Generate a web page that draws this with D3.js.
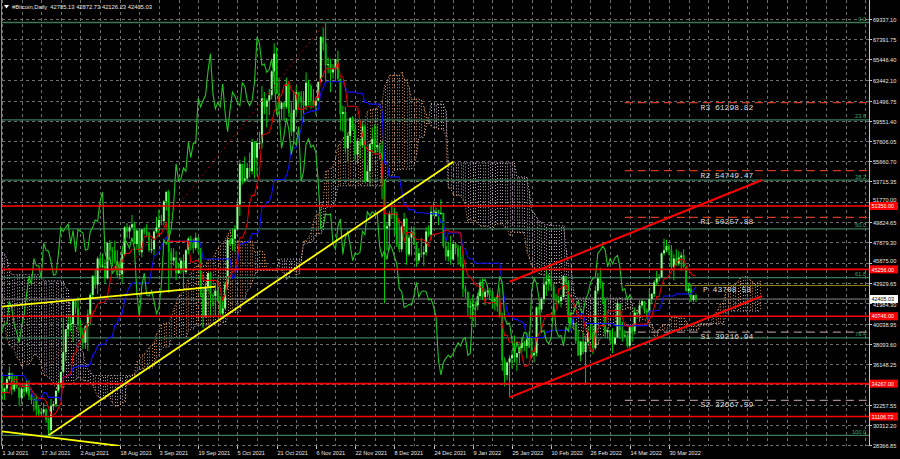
<!DOCTYPE html>
<html><head><meta charset="utf-8">
<script src="https://cdn.jsdelivr.net/npm/d3@7"></script>
<style>html,body{margin:0;padding:0;background:#000;overflow:hidden}</style>
</head><body><svg id="c" width="900" height="459"></svg>
<script>
// ---------- DATA (prices in thousands of USD, daily bars from 15 Apr 2021) ----------
const startDate = "2021-04-15";
const firstOpen = 63.0;
const closes = [
63.6,61.4,60.1,56.2,55.7,56.5,53.8,51.7,51.2,50.1,49.0,54.0,55.0,54.8,53.6,57.8,
57.8,56.6,57.2,53.2,57.5,56.4,57.4,58.9,58.3,55.8,56.7,49.2,49.7,49.9,46.8,46.4,43.6,42.9,37.0,40.7,37.3,37.5,34.8,38.8,38.4,39.3,38.5,35.7,34.6,35.7,37.3,
36.7,37.6,39.2,36.9,35.5,35.8,33.6,33.4,37.3,36.7,37.3,35.6,39.1,40.5,40.1,38.3,38.0,35.8,35.5,35.6,31.7,32.5,33.7,34.7,31.6,32.2,34.6,34.5,35.9,35.0,
33.5,33.8,34.7,35.3,33.7,34.2,33.9,32.9,33.8,33.5,34.3,33.1,32.7,32.8,31.8,31.4,31.5,31.8,30.8,29.8,32.1,32.3,33.6,34.3,35.4,37.3,39.5,40.0,40.0,42.2,41.5,
39.9,39.2,38.2,39.8,40.9,42.8,44.6,43.8,46.3,45.6,45.6,44.4,47.8,47.1,47.0,46.0,44.7,44.8,46.7,49.3,48.9,49.3,49.6,47.7,49.0,46.9,49.1,48.9,48.8,47.1,47.2,
48.9,49.3,50.0,49.9,51.8,52.7,46.9,46.1,46.4,44.9,45.2,46.1,45.0,47.1,48.2,47.8,47.3,48.3,47.3,43.0,40.7,43.6,44.9,42.8,42.7,43.2,42.2,41.0,41.5,43.8,
48.1,47.7,48.2,49.1,51.5,55.4,53.8,54.0,55.0,54.7,57.5,56.0,57.4,57.4,61.7,60.9,61.5,62.0,64.3,66.0,62.2,60.7,61.3,60.9,63.1,60.3,58.5,60.6,62.3,61.9,61.3,
61.0,63.2,62.9,61.5,61.0,61.5,63.3,67.6,67.0,64.9,65.0,64.2,64.5,65.5,63.6,60.2,60.4,56.9,58.1,59.8,58.7,56.3,57.6,57.2,59.0,53.7,54.7,57.3,57.8,57.0,
57.2,56.5,53.6,49.2,49.4,50.6,50.5,50.6,47.7,47.2,49.4,50.1,46.7,48.3,48.9,47.6,46.1,46.8,46.7,46.9,48.9,48.6,50.8,50.4,50.8,50.6,50.7,47.5,46.5,47.1,46.2,
47.7,47.3,46.5,45.8,43.4,43.1,41.6,41.7,41.9,41.8,42.7,44.0,42.6,43.1,43.2,43.1,42.3,42.4,41.7,40.7,36.5,35.1,36.3,36.7,37.0,36.8,37.2,37.7,38.2,37.9,38.5,
38.7,37.0,37.2,41.6,41.4,42.4,43.8,44.1,44.3,43.6,42.4,42.2,42.2,42.6,44.6,44.0,40.6,40.0,40.1,38.4,37.0,38.3,37.3,38.3,39.2,39.1,37.7,43.2,
44.4,43.9,42.5,39.2,39.4,38.4,38.1,38.7,42.0,39.4,38.8,38.9,37.9,39.7,39.3,41.1,41.0,41.8,42.2,41.3,41.1,42.4,42.9,44.0,44.4,44.5,46.8,47.1,47.5,47.1,45.5,
46.3,45.8,46.4,46.6,45.5,43.2,43.4,42.3,42.785,42.40503];
const highs = [
63.8,63.6,62.5,60.4,57.5,57.0,56.8,55.5,52.1,51.1,50.5,54.4,55.5,56.4,55.2,57.9,
58.5,57.9,58.9,57.2,58.0,58.4,58.6,59.5,59.2,59.5,56.9,58.0,51.3,51.4,50.6,49.7,46.6,45.8,43.5,42.5,42.2,38.8,38.2,39.8,39.8,40.8,40.4,38.9,37.3,36.4,37.5,
37.9,38.2,39.5,39.3,37.8,36.5,36.8,34.0,37.5,38.3,37.7,37.4,39.3,41.0,41.3,40.5,39.5,38.2,36.4,36.0,35.7,33.3,34.8,35.2,35.5,32.7,34.7,35.2,36.6,36.0,
35.0,33.9,34.9,35.9,35.3,35.0,35.0,33.9,34.0,34.3,34.6,34.6,33.3,33.1,33.2,32.2,31.9,32.4,31.9,31.0,32.8,32.6,33.6,34.5,35.4,40.5,39.5,40.9,40.6,42.3,42.4,
42.6,40.4,39.6,39.9,41.4,43.0,44.7,45.3,46.5,46.7,46.8,46.2,47.9,48.1,47.4,48.0,47.1,46.0,47.0,49.4,49.7,49.5,50.5,49.8,49.1,49.2,49.1,49.3,49.6,48.9,48.2,
49.0,50.3,51.0,50.5,51.9,52.8,52.9,47.3,47.3,47.0,45.9,46.4,46.7,47.2,48.4,48.5,48.2,48.8,48.4,47.3,43.6,44.0,44.9,45.0,42.9,43.9,44.3,42.7,42.6,44.1,
48.4,48.3,49.2,49.5,51.9,55.8,55.3,56.1,55.5,56.5,57.8,57.6,57.6,58.5,62.9,62.3,61.7,62.6,64.4,67.0,66.6,63.7,61.4,61.4,63.7,63.3,61.3,62.4,62.9,62.3,62.4,
62.4,64.2,63.5,63.1,62.6,61.6,63.3,67.7,68.5,69.0,65.6,65.5,65.0,65.5,66.3,63.6,61.0,60.9,58.4,59.9,60.0,59.3,57.9,57.8,59.4,59.2,55.3,57.4,58.9,59.2,
59.1,57.4,57.6,53.9,49.7,50.9,51.9,51.2,50.8,50.0,49.5,50.7,50.2,48.6,49.4,49.4,47.9,47.3,48.3,47.5,49.3,49.5,51.4,51.8,51.2,51.0,52.0,50.7,48.1,47.9,48.5,
47.9,47.9,47.6,47.5,47.0,43.7,43.1,42.3,42.8,42.2,43.0,44.3,44.4,43.4,43.8,43.5,43.2,42.6,42.6,43.5,41.1,36.8,36.4,37.0,37.5,38.9,37.2,37.9,38.7,38.4,38.7,
39.3,38.8,37.4,41.7,41.9,42.6,44.5,45.5,44.8,45.8,43.9,42.9,42.7,42.8,44.7,44.6,44.2,40.9,40.4,40.1,39.4,38.4,39.2,38.9,39.7,40.1,39.8,43.7,
44.9,45.4,44.1,42.5,39.6,39.4,39.6,39.3,42.4,42.0,40.2,39.4,39.3,39.9,39.9,41.6,41.2,42.3,42.4,42.2,41.5,43.3,43.0,44.2,45.1,44.8,46.9,48.2,48.1,47.7,47.6,
46.7,47.2,47.0,46.9,47.2,45.5,43.9,43.9,42.8,42.87273];
const lows = [
62.0,60.0,59.6,51.5,54.2,53.4,53.6,50.6,47.5,48.9,47.0,48.8,53.3,53.9,52.4,53.1,
57.0,56.0,56.5,53.1,53.0,55.3,55.4,56.9,56.3,54.0,54.5,48.6,46.0,48.8,46.6,43.8,42.2,42.3,30.0,35.0,33.5,35.3,31.1,34.4,36.5,37.8,37.2,34.7,33.6,33.4,34.2,
35.7,35.9,37.2,35.6,34.9,35.3,33.5,31.0,32.4,35.8,35.9,34.6,34.8,38.8,39.5,38.1,37.4,35.2,34.8,33.4,31.3,28.8,32.3,32.4,31.3,30.2,32.0,33.9,34.3,34.0,
32.7,32.7,33.4,34.5,33.2,33.5,33.8,32.1,32.3,33.0,33.3,32.7,32.3,31.6,31.2,31.1,31.2,31.2,30.5,29.3,29.5,31.7,32.0,33.4,33.9,35.2,36.4,38.8,39.3,38.3,41.0,
39.4,38.7,37.6,37.6,37.4,39.9,42.5,43.4,42.9,45.4,45.4,43.9,44.3,46.1,45.5,45.8,44.5,44.3,43.9,46.6,48.3,48.2,49.2,47.7,47.2,46.6,46.4,48.6,48.4,46.9,46.8,
46.6,48.7,48.4,49.5,49.5,50.9,43.0,44.5,45.6,44.2,44.8,44.8,43.4,44.8,46.7,47.1,46.8,47.1,46.8,42.6,39.6,40.6,43.1,40.7,41.7,40.8,42.1,40.9,40.8,41.5,
43.3,47.5,47.1,46.9,49.1,50.4,53.4,53.6,53.7,54.1,54.4,54.0,54.3,56.8,56.9,60.2,58.9,60.1,61.6,63.5,62.1,60.1,59.7,59.6,60.7,59.9,58.1,57.6,60.2,60.8,59.6,
59.4,60.6,61.0,60.7,60.8,60.1,61.4,63.3,66.3,63.3,64.1,62.3,63.6,63.6,63.4,58.6,58.5,56.5,55.6,57.4,58.6,55.7,55.4,55.9,57.0,53.6,53.7,53.3,56.7,56.4,
56.5,55.8,52.0,42.0,47.1,47.1,50.1,48.6,47.4,46.9,46.9,48.6,45.7,46.5,46.6,47.6,45.5,45.9,46.4,45.6,46.6,48.4,48.1,50.4,50.3,49.5,50.5,47.3,46.1,46.0,45.7,
46.2,46.7,45.7,45.5,42.6,42.5,40.8,40.5,41.2,39.7,41.3,42.5,42.3,41.8,42.6,42.7,41.5,41.3,41.2,40.6,35.5,34.0,34.6,33.0,35.7,36.3,35.5,36.2,37.3,37.4,36.7,
38.0,36.7,36.3,36.9,40.9,41.1,42.0,42.7,43.2,43.2,42.0,41.8,41.9,41.6,42.4,43.3,40.1,39.5,39.6,38.1,36.9,36.4,37.1,34.3,38.1,38.6,37.1,37.5,
42.9,43.4,41.9,38.7,38.6,38.1,37.2,38.0,38.7,38.6,38.3,38.8,37.7,37.6,38.3,39.0,40.5,40.2,41.5,41.0,40.5,41.1,41.9,42.6,43.7,44.1,44.4,46.6,46.9,46.6,45.2,
44.2,45.6,45.6,45.1,45.4,43.1,42.8,42.1,42.1,42.12623];

const titleText = "#Bitcoin,Daily  42785.13 42872.73 42126.23 42405.03";
const lastPrice = 42405.03;

const priceTicks = [69337.10,67391.75,65446.40,63442.10,61496.75,59551.40,57606.05,55660.70,53715.35,51770.00,49824.65,47879.30,45875.00,43929.65,41984.30,40038.95,38093.60,36148.25,34202.90,32257.55,30312.20,28366.85];
const dateTickDates = ["2021-07-01","2021-07-17","2021-08-02","2021-08-18","2021-09-03","2021-09-19","2021-10-05","2021-10-21","2021-11-06","2021-11-22","2021-12-08","2021-12-24","2022-01-09","2022-01-25","2022-02-10","2022-02-26","2022-03-14","2022-03-30"];
const dateTickLabels = ["1 Jul 2021","17 Jul 2021","2 Aug 2021","18 Aug 2021","3 Sep 2021","19 Sep 2021","5 Oct 2021","21 Oct 2021","6 Nov 2021","22 Nov 2021","8 Dec 2021","24 Dec 2021","9 Jan 2022","25 Jan 2022","10 Feb 2022","26 Feb 2022","14 Mar 2022","30 Mar 2022"];

const levelValues = [51350.00,45256.00,40746.00,34267.00,31106.72];
const pivotNames = ["R3","R2","R1","P","S1","S2"];
const pivotValues = [61298.82,54749.47,50257.88,43708.53,39216.94,32667.59];
const pivotStart = "2022-03-12";
const fibLevels = [0.0,23.6,38.2,50.0,61.8,76.4,100.0];
const fibHigh = 69000, fibLow = 29300;

const trendYellow = [
  [["2021-06-30",29700],["2021-08-18",28280]],
  [["2021-07-20",29300],["2022-01-01",55600]],
  [["2021-06-30",41650],["2021-09-26",43600]]];
const trendRed = [
  [["2022-01-24",44070],["2022-05-07",53850]],
  [["2022-01-24",32950],["2022-05-07",42700]]];
const trendDotted = [["2021-07-21",36300],["2021-11-10",69000]];

// ---------- SETUP ----------
const svg = d3.select("#c");
const W = 900, H = 459, L = 2, R = 869, T = 0, B = 446;
const pd = d3.utcParse("%Y-%m-%d");
const x = d3.scaleUtc().domain([Date.UTC(2021,6,1), Date.UTC(2022,5,19,14)]).range([L, R]);
const y = d3.scaleLinear().domain([28366.85, 69337.10]).range([445, 19]);
const DAY = 86400000;
const t0 = pd(startDate).getTime();
const dateAt = i => new Date(t0 + i*DAY);
const n = closes.length;
const C = closes.map(v=>v*1000), Hh = highs.map(v=>v*1000), Ll = lows.map(v=>v*1000);
const O = C.map((v,i)=> i===0 ? firstOpen*1000 : C[i-1]);

svg.append("rect").attr("width",W).attr("height",H).attr("fill","#000");
svg.append("defs").append("clipPath").attr("id","clip").append("rect")
  .attr("x",L).attr("y",T).attr("width",R-L).attr("height",B-T);
const g = svg.append("g").attr("clip-path","url(#clip)");

// grid
const gridCol = "#6e6e6e";
priceTicks.forEach(v=>{
  g.append("line").attr("x1",L).attr("x2",R).attr("y1",Math.round(y(v))+0.5).attr("y2",Math.round(y(v))+0.5)
   .attr("stroke",gridCol).attr("stroke-dasharray","3,3").attr("stroke-width",1);
});
const t1 = Date.UTC(2021,6,1);
d3.range(0, 360, 8).forEach(d=>{
  const xx = Math.round(x(new Date(t1 + d*DAY)))+0.5;
  g.append("line").attr("x1",xx).attr("x2",xx).attr("y1",T).attr("y2",B)
   .attr("stroke",gridCol).attr("stroke-dasharray","3,3").attr("stroke-width",1);
});

// ---------- ICHIMOKU ----------
function mid(i,p){ if(i-p+1<0) return null; let hh=-Infinity, ll=Infinity;
  for(let k=i-p+1;k<=i;k++){ hh=Math.max(hh,Hh[k]); ll=Math.min(ll,Ll[k]); } return (hh+ll)/2; }
const tenkan = d3.range(n).map(i=>mid(i,9));
const kijun = d3.range(n).map(i=>mid(i,26));
const spanA = [], spanB = [];
for(let i=0;i<n;i++){
  if(tenkan[i]!=null && kijun[i]!=null) spanA[i+26] = (tenkan[i]+kijun[i])/2;
  const b = mid(i,52); if(b!=null) spanB[i+26] = b;
}
// cloud hatch
const cloudG = g.append("g");
for(let j=0;j<spanB.length;j++){
  const a = spanA[j], b = spanB[j];
  if(a==null || b==null) continue;
  const xx = Math.round(x(dateAt(j)))+0.5;
  cloudG.append("line").attr("x1",xx).attr("x2",xx).attr("y1",y(a)).attr("y2",y(b))
    .attr("stroke", a>=b ? "#f4a460" : "#d8bfd8").attr("stroke-width",1)
    .attr("stroke-dasharray","1,2").attr("opacity",0.85);
}
const lineGen = d3.line().defined(d=>d.v!=null).x(d=>x(d.t)).y(d=>y(d.v));
const spanAPts = d3.range(spanA.length).map(j=>({t:dateAt(j), v: spanA[j]==null?null:spanA[j]}));
const spanBPts = d3.range(spanB.length).map(j=>({t:dateAt(j), v: spanB[j]==null?null:spanB[j]}));
g.append("path").attr("d",lineGen(spanAPts)).attr("fill","none").attr("stroke","#f4a460").attr("stroke-dasharray","1,2").attr("stroke-width",1);
g.append("path").attr("d",lineGen(spanBPts)).attr("fill","none").attr("stroke","#d8bfd8").attr("stroke-dasharray","1,2").attr("stroke-width",1);

// fib lines
fibLevels.forEach(l=>{
  const v = fibHigh - (fibHigh-fibLow)*l/100;
  g.append("line").attr("x1",L).attr("x2",R).attr("y1",y(v)).attr("y2",y(v))
    .attr("stroke","#3b7a5a").attr("stroke-width",1.3);
});

// pivots
pivotNames.forEach((nm,i)=>{
  const v = pivotValues[i];
  const col = nm[0]==="R" ? "#d2381a" : (nm==="P" ? "#8c7d14" : "#a08a8a");
  g.append("line").attr("x1",x(pd(pivotStart))).attr("x2",R).attr("y1",y(v)).attr("y2",y(v))
    .attr("stroke",col).attr("stroke-width",1.2).attr("stroke-dasharray", nm==="P" ? null : "8,5");
});

// current price line
g.append("line").attr("x1",L).attr("x2",R).attr("y1",y(lastPrice)).attr("y2",y(lastPrice))
  .attr("stroke","#8a8a8a").attr("stroke-width",1);

// candles
const cg = g.append("g");
for(let i=0;i<n;i++){
  const xx = x(dateAt(i));
  if(xx < L-4) continue;
  const o=O[i], c=C[i];
  const hi = Math.max(Hh[i],o,c), lo = Math.min(Ll[i],o,c);
  cg.append("line").attr("x1",xx).attr("x2",xx).attr("y1",y(hi)).attr("y2",y(lo))
    .attr("stroke","#00d000").attr("stroke-width",1);
  const top = y(Math.max(o,c)), bot = y(Math.min(o,c));
  cg.append("rect").attr("x",xx-1).attr("y",top).attr("width",2).attr("height",Math.max(1,bot-top))
    .attr("fill", c>=o ? "#8aff8a" : "#00b800");
}

// tenkan, kijun, chikou
const tenPts = d3.range(n).map(i=>({t:dateAt(i), v:tenkan[i]}));
const kijPts = d3.range(n).map(i=>({t:dateAt(i), v:kijun[i]}));
const chiPts = d3.range(26,n).map(i=>({t:dateAt(i-26), v:C[i]}));
g.append("path").attr("d",lineGen(kijPts)).attr("fill","none").attr("stroke","#1010ff").attr("stroke-width",1.1);
g.append("path").attr("d",lineGen(tenPts)).attr("fill","none").attr("stroke","#e00000").attr("stroke-width",1.1);
g.append("path").attr("d",lineGen(chiPts)).attr("fill","none").attr("stroke","#22c422").attr("stroke-width",1.1);

// horizontal red levels
levelValues.forEach(v=>{
  g.append("line").attr("x1",L).attr("x2",R).attr("y1",y(v)).attr("y2",y(v))
    .attr("stroke","#ff0000").attr("stroke-width",1.6);
});

// trend lines
const P = p => [x(pd(p[0])), y(p[1])];
g.append("line").attr("x1",P(trendDotted[0])[0]).attr("y1",P(trendDotted[0])[1])
  .attr("x2",P(trendDotted[1])[0]).attr("y2",P(trendDotted[1])[1])
  .attr("stroke","#9a0000").attr("stroke-width",1).attr("stroke-dasharray","2,3");
trendYellow.forEach(s=>{
  g.append("line").attr("x1",P(s[0])[0]).attr("y1",P(s[0])[1]).attr("x2",P(s[1])[0]).attr("y2",P(s[1])[1])
   .attr("stroke","#ffff00").attr("stroke-width",1.8);
});
trendRed.forEach(s=>{
  g.append("line").attr("x1",P(s[0])[0]).attr("y1",P(s[0])[1]).attr("x2",P(s[1])[0]).attr("y2",P(s[1])[1])
   .attr("stroke","#ff0000").attr("stroke-width",2);
});

// fib labels
fibLevels.forEach(l=>{
  const v = fibHigh - (fibHigh-fibLow)*l/100;
  svg.append("text").attr("x",866).attr("y",y(v)-1.5).attr("text-anchor","end")
    .attr("font-family","Liberation Sans, Arial, sans-serif").attr("font-size",5.6)
    .attr("fill","#3fa865").text(l.toFixed(1));
});

// pivot labels
pivotNames.forEach((nm,i)=>{
  const v = pivotValues[i];
  svg.append("text").attr("x",727).attr("y",y(v)+7).attr("text-anchor","middle")
    .attr("font-family","Liberation Mono, DejaVu Sans Mono, monospace").attr("font-size",8)
    .attr("fill","#dcdcdc").text(nm+" "+v.toFixed(2));
});

// frame lines
svg.append("line").attr("x1",R+0.5).attr("x2",R+0.5).attr("y1",0).attr("y2",B).attr("stroke","#c8c8c8").attr("stroke-width",1);
svg.append("line").attr("x1",1.5).attr("x2",1.5).attr("y1",0).attr("y2",B).attr("stroke","#8a8a8a").attr("stroke-width",1);

// price axis labels
const fontAx = "Liberation Sans, Arial, sans-serif";
const boxed = levelValues.concat([lastPrice]);
priceTicks.forEach(v=>{
  const yy = Math.round(y(v))+0.5;
  svg.append("line").attr("x1",R).attr("x2",R+3).attr("y1",yy).attr("y2",yy).attr("stroke","#c8c8c8");
  // nearest boxed label; labels fully under a box are not visible
  const nb = boxed.reduce((a,b)=> Math.abs(y(b)-yy) < Math.abs(y(a)-yy) ? b : a);
  const d = yy - y(nb);
  if (Math.abs(d) < 2.5) return;
  let shift = 0;
  if (Math.abs(d) < 8) shift = d < 0 ? -2.5 : 1.8;
  svg.append("text").attr("x",873).attr("y",yy+2+shift).attr("font-family",fontAx).attr("font-size",5.6)
    .attr("fill","#e6e6e6").text(v.toFixed(2));
});
levelValues.forEach(v=>{
  const yy = y(v);
  svg.append("rect").attr("x",R+1).attr("y",yy-4).attr("width",28).attr("height",8).attr("fill","#ff0000");
  svg.append("text").attr("x",871.5).attr("y",yy+2.2).attr("font-family",fontAx).attr("font-size",5.4)
    .attr("fill","#ffffff").text(v.toFixed(2));
});
{
  const yy = y(lastPrice);
  svg.append("rect").attr("x",R+1).attr("y",yy-4).attr("width",28).attr("height",8).attr("fill","#ffffff");
  svg.append("text").attr("x",871.5).attr("y",yy+2.2).attr("font-family",fontAx).attr("font-size",5.4)
    .attr("fill","#000000").text(lastPrice.toFixed(2));
}

// date axis labels
dateTickDates.forEach((d,i)=>{
  const xx = Math.round(x(pd(d)))+0.5;
  svg.append("line").attr("x1",xx).attr("x2",xx).attr("y1",B).attr("y2",B+3).attr("stroke","#c8c8c8");
  svg.append("text").attr("x",xx).attr("y",454.5).attr("font-family",fontAx).attr("font-size",5.6)
    .attr("fill","#e6e6e6").text(dateTickLabels[i]);
});

// title
svg.append("path").attr("d","M4,5 L9,5 L6.5,8.5 Z").attr("fill","#ffffff");
svg.append("text").attr("x",12).attr("y",9).attr("font-family",fontAx).attr("font-size",5.8)
  .attr("fill","#e6e6e6").attr("xml:space","preserve").style("white-space","pre").text(titleText);
</script></body></html>
